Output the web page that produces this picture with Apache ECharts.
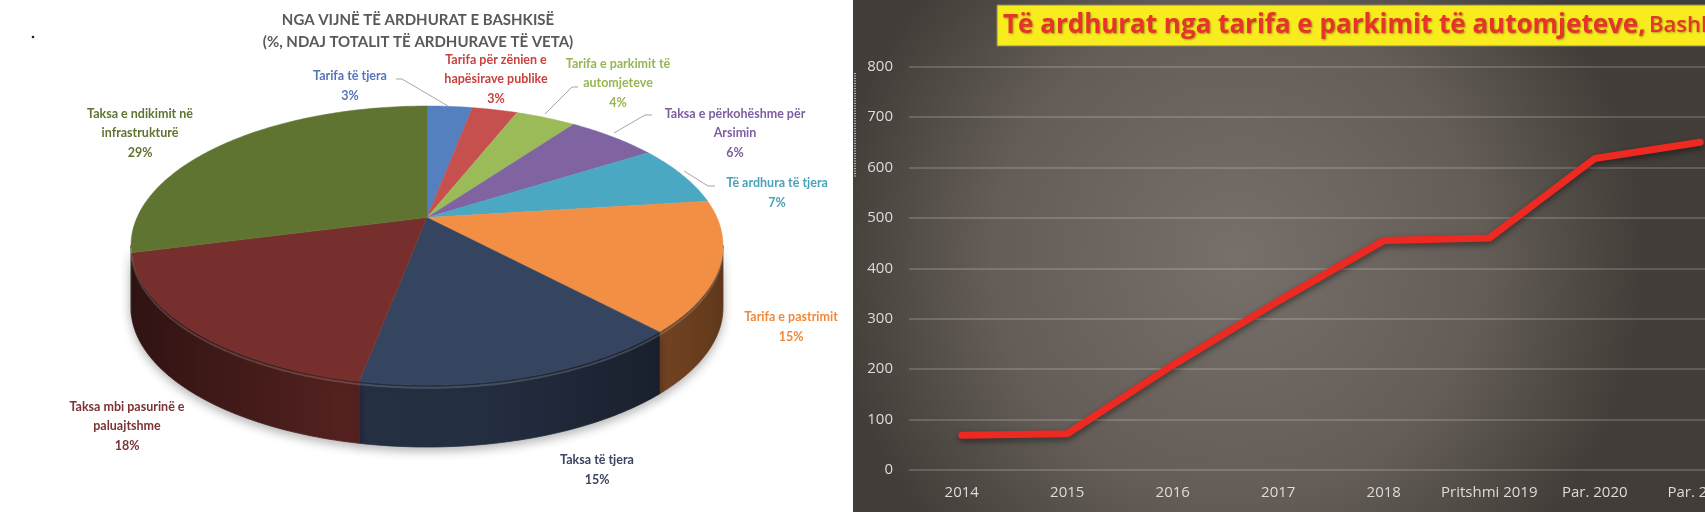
<!DOCTYPE html>
<html>
<head>
<meta charset="utf-8">
<title>Të ardhurat e bashkisë</title>
<script src="https://cdn.jsdelivr.net/npm/echarts@6/dist/echarts.min.js"></script>
<style>
  html, body { margin: 0; padding: 0; background: #fff; }
  #chart { width: 1705px; height: 512px; }
</style>
</head>
<body>
<div id="chart"></div>
<script>
// pie: struktura e te ardhurave (%)
const sliceNames = [
    'Tarifa të tjera',
    'Tarifa për zënien e\nhapësirave publike',
    'Tarifa e parkimit të\nautomjeteve',
    'Taksa e përkohëshme për\nArsimin',
    'Të ardhura të tjera',
    'Tarifa e pastrimit',
    'Taksa të tjera',
    'Taksa mbi pasurinë e\npaluajtshme',
    'Taksa e ndikimit në\ninfrastrukturë'
]
const sliceValues = [3, 3, 4, 6, 7, 15, 15, 18, 29]

// line: tarifa e parkimit
const years = ['2014', '2015', '2016', '2017', '2018', 'Pritshmi 2019', 'Par. 2020', 'Par. 2021']
const parkingRevenue = [69, 72, 208, 335, 455, 460, 618, 650]

const pieTitle = 'NGA VIJNË TË ARDHURAT E BASHKISË\n(%, NDAJ TOTALIT TË ARDHURAVE TË VETA)'
const lineTitle = 'Të ardhurat nga tarifa e parkimit të automjeteve,'
const lineTitleTail = 'Bashkia Tiranë'

;(function () {
    const chart = echarts.init(document.getElementById('chart'))

    const sliceColors = ['#5580c0', '#c6504d', '#9bbb59', '#8064a2', '#4ba8c2', '#f28f45', '#35445f', '#772f2d', '#5f7431']
    const labelColors = ['#5575b8', '#c9413e', '#97b652', '#7d5ea0', '#4aa2b8', '#f08a3a', '#3b4561', '#7a3432', '#5f7332']
    // qendra e etiketave (px)
    const labelPos = [[350, 86], [496, 79], [618, 83], [735, 133], [777, 193], [791, 327], [597, 470], [127, 426], [140, 133]]
    const leaders = [
        [[396, 79], [402, 79], [448, 106]],
        null,
        [[578, 87], [572, 87], [545, 114]],
        [[652, 115], [645, 115], [614, 133]],
        [[715, 186], [708, 186], [684, 171]],
        null, null, null, null
    ]

    const C = 0.2      // perspektiva
    const DEPTH = 0.444 // trashesia e pites
    const total = sliceValues.reduce((a, b) => a + b, 0)
    const TH_MIN = Math.acos(-C)
    const TH_MAX = 2 * Math.PI - TH_MIN

    let acc = 0
    const sliceData = sliceValues.map((v, i) => {
        const item = [acc, acc + v, i]
        acc += v
        return item
    })

    function project(theta, drop) {
        const u = Math.sin(theta)
        const v = -Math.cos(theta)
        const d = 1 - C * v
        return [u * Math.sqrt(1 - C * C) / d, (v - C) / d + drop]
    }

    function arc(api, s, e, drop) {
        const n = Math.max(2, Math.ceil(Math.abs(e - s) / (Math.PI / 180)))
        const pts = []
        for (let k = 0; k <= n; k++) {
            pts.push(api.coord(project(s + (e - s) * k / n, drop)))
        }
        return pts
    }

    function shade(hex, f) {
        const n = parseInt(hex.slice(1), 16)
        const ch = [(n >> 16) & 255, (n >> 8) & 255, n & 255].map(c => Math.round(c * (1 + f)))
        return 'rgb(' + ch.join(',') + ')'
    }

    function angles(api) {
        return [api.value(0) / total * 2 * Math.PI, api.value(1) / total * 2 * Math.PI, api.value(2)]
    }

    const graphics = [
        // sfondi i grafikut te djathte
        {
            type: 'rect', z: -10, silent: true,
            shape: { x: 853, y: 0, width: 852, height: 512 },
            style: {
                fill: new echarts.graphic.RadialGradient(0.45, 0.5, 0.8, [
                    { offset: 0, color: '#77706a' },
                    { offset: 0.6, color: '#645d57' },
                    { offset: 1, color: '#423d38' }
                ])
            }
        },
        {
            type: 'line', z: -9, silent: true,
            shape: { x1: 855, y1: 73, x2: 855, y2: 177 },
            style: { stroke: '#e6e6e6', lineWidth: 1.5, lineDash: [1, 1.5] }
        },
        {
            type: 'rect', z: 5, silent: true,
            shape: { x: 997, y: 5, width: 720, height: 41 },
            style: { fill: '#f9ec1e', stroke: '#8a8660', lineWidth: 1 }
        },
        {
            type: 'text', z: 6, silent: true,
            style: {
                text: '{a|' + lineTitle + '} {b|' + lineTitleTail + '}',
                x: 1003, y: 26,
                textVerticalAlign: 'middle', verticalAlign: 'middle',
                rich: {
                    a: {
                        font: 'bold 26px "Open Sans"', fill: '#e5352a',
                        textShadowColor: 'rgba(0,0,0,0.35)', textShadowBlur: 2, textShadowOffsetX: 1, textShadowOffsetY: 1
                    },
                    b: {
                        font: '600 22px "Open Sans"', fill: '#e5352a',
                        textShadowColor: 'rgba(0,0,0,0.3)', textShadowBlur: 2, textShadowOffsetX: 1, textShadowOffsetY: 1
                    }
                }
            }
        },
        // titulli i pites
        {
            type: 'text', z: 6, silent: true,
            style: {
                text: pieTitle, x: 418, y: 31,
                textAlign: 'center', align: 'center',
                textVerticalAlign: 'middle', verticalAlign: 'middle',
                font: 'bold 15px Lato', fill: '#595959', lineHeight: 22
            }
        },
        {
            type: 'circle', z: 6, silent: true,
            shape: { cx: 33, cy: 37, r: 1.3 },
            style: { fill: '#222' }
        }
    ]

    sliceNames.forEach((name, i) => {
        graphics.push({
            type: 'text', z: 6, silent: true,
            style: {
                text: name + '\n' + sliceValues[i] + '%',
                x: labelPos[i][0], y: labelPos[i][1],
                textAlign: 'center', align: 'center',
                textVerticalAlign: 'middle', verticalAlign: 'middle',
                font: 'bold 12.5px Lato', fill: labelColors[i], lineHeight: 19.5
            }
        })
        if (leaders[i]) {
            graphics.push({
                type: 'polyline', z: 6, silent: true,
                shape: { points: leaders[i] },
                style: { stroke: '#a6a6a6', lineWidth: 1, fill: null }
            })
        }
    })

    const option = {
        animation: false,
        backgroundColor: '#fff',
        graphic: graphics,
        grid: [
            { left: 131, top: 106, width: 592, height: 341, outerBoundsMode: 'none' },
            { left: 909, right: -48, top: 66.7, bottom: 42, outerBoundsMode: 'none' }
        ],
        xAxis: [
            { gridIndex: 0, type: 'value', min: -1, max: 1, show: false },
            {
                gridIndex: 1,
                type: 'category',
                data: years,
                axisLine: { show: false },
                axisTick: { show: false },
                axisLabel: { color: '#dcdcdc', fontSize: 15, fontFamily: 'Open Sans', margin: 15, interval: 0 }
            }
        ],
        yAxis: [
            { gridIndex: 0, type: 'value', min: -1, max: 1 + DEPTH, inverse: true, show: false },
            {
                gridIndex: 1,
                type: 'value',
                min: 0,
                max: 800,
                interval: 100,
                axisLine: { show: false },
                axisTick: { show: false },
                axisLabel: { color: '#dcdcdc', fontSize: 15, fontFamily: 'Open Sans', margin: 16 },
                splitLine: { lineStyle: { color: 'rgba(255,255,255,0.22)', width: 1.5 } }
            }
        ],
        series: [
            {
                // muret anesore
                type: 'custom',
                xAxisIndex: 0, yAxisIndex: 0,
                clip: false, silent: true, z: 1,
                data: sliceData,
                renderItem: function (params, api) {
                    const [a0, a1, idx] = angles(api)
                    const s = Math.max(a0, TH_MIN)
                    const e = Math.min(a1, TH_MAX)
                    if (s >= e) return { type: 'group', children: [] }
                    const pts = arc(api, s, e, 0).concat(arc(api, e, s, DEPTH))
                    const left = api.coord([-1, 0])[0]
                    const right = api.coord([1, 0])[0]
                    const base = sliceColors[idx]
                    const grad = new echarts.graphic.LinearGradient(left, 0, right, 0, [
                        { offset: 0, color: shade(base, -0.6) },
                        { offset: 0.35, color: shade(base, -0.3) },
                        { offset: 0.6, color: shade(base, -0.32) },
                        { offset: 1, color: shade(base, -0.6) }
                    ], true)
                    return {
                        type: 'polygon',
                        shape: { points: pts },
                        style: {
                            fill: grad,
                            stroke: grad,
                            lineWidth: 0.8,
                            shadowBlur: 10,
                            shadowColor: 'rgba(0,0,0,0.28)',
                            shadowOffsetY: 4
                        }
                    }
                }
            },
            {
                // faqja e siperme
                type: 'custom',
                xAxisIndex: 0, yAxisIndex: 0,
                clip: false, silent: true, z: 2,
                data: sliceData,
                renderItem: function (params, api) {
                    const [a0, a1, idx] = angles(api)
                    const centre = api.coord([0, -C])
                    const children = [{
                        type: 'polygon',
                        shape: { points: [centre].concat(arc(api, a0, a1, 0)) },
                        style: { fill: sliceColors[idx], stroke: sliceColors[idx], lineWidth: 0.5 }
                    }]
                    const s = Math.max(a0, TH_MIN)
                    const e = Math.min(a1, TH_MAX)
                    if (s < e) {
                        children.push({
                            type: 'polyline',
                            shape: { points: arc(api, s, e, 0.02) },
                            style: { stroke: 'rgba(255,255,255,0.16)', lineWidth: 2, fill: null }
                        })
                    }
                    return { type: 'group', children: children }
                }
            },
            {
                type: 'line',
                xAxisIndex: 1, yAxisIndex: 1,
                data: parkingRevenue,
                symbol: 'none',
                z: 3,
                lineStyle: {
                    color: '#ee2922',
                    width: 7,
                    cap: 'round',
                    shadowColor: 'rgba(0,0,0,0.45)',
                    shadowBlur: 6,
                    shadowOffsetY: 3
                }
            }
        ]
    }

    chart.setOption(option)
    window.addEventListener('resize', () => {
        chart.resize()
    })
})()
</script>
</body>
</html>
